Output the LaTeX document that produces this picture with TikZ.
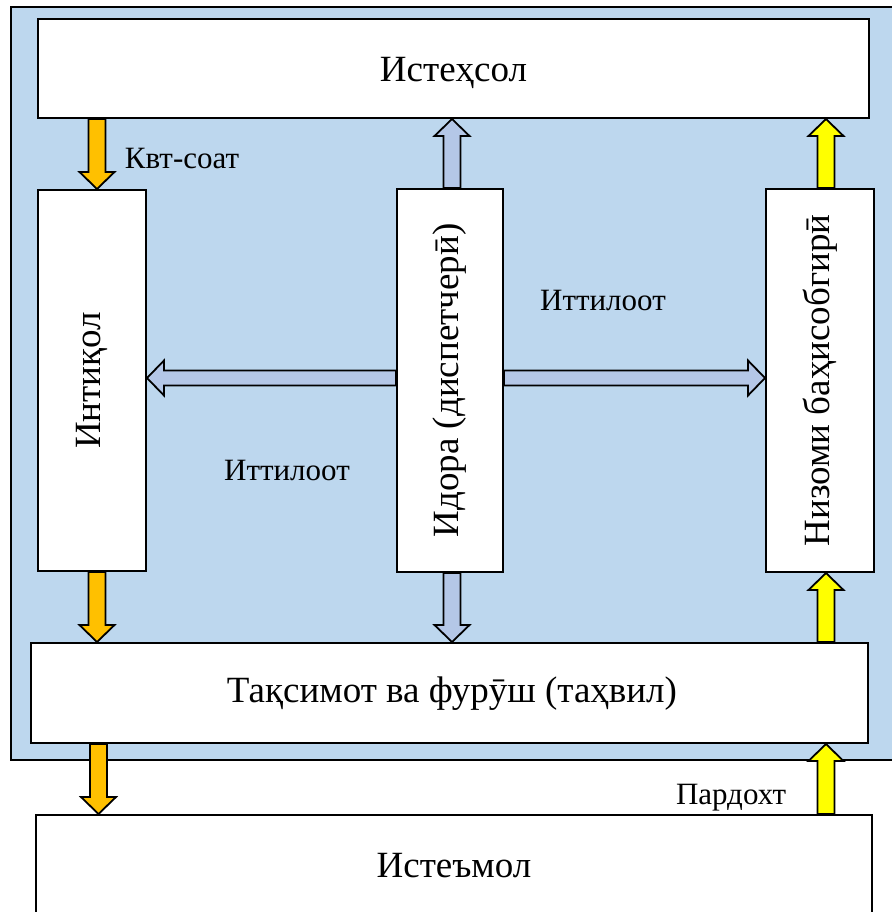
\documentclass[tikz,border=0pt]{standalone}
\usepackage{fontspec}
\setmainfont{Liberation Serif}
\usetikzlibrary{calc}
\definecolor{bgblue}{RGB}{189,215,238}
\definecolor{lav}{RGB}{180,199,231}
\definecolor{orng}{RGB}{255,192,0}
\definecolor{yel}{RGB}{255,255,0}
\newcommand\bigf{\fontsize{37}{44}\selectfont}
\newcommand\smallf{\fontsize{31}{37}\selectfont}
\newcommand\blockarrow[4][8.5]{%
  \coordinate (ba-s) at #3; \coordinate (ba-e) at #4;
  \coordinate (ba-b) at ($(ba-e)!17pt!(ba-s)$);
  \draw[#2] ($(ba-s)!#1pt!90:(ba-e)$) -- ($(ba-b)!#1pt!90:(ba-e)$) -- ($(ba-b)!17.5pt!90:(ba-e)$) -- (ba-e) -- ($(ba-b)!17.5pt!-90:(ba-e)$) -- ($(ba-b)!#1pt!-90:(ba-e)$) -- ($(ba-s)!#1pt!-90:(ba-e)$) -- cycle;
}
\tikzset{
  box/.style={draw, line width=2pt, fill=white, inner sep=0pt},
  txt/.style={font=\bigf, inner sep=0pt},
  arr/.style={draw, line width=1.8pt, line join=miter},
  orangearr/.style={arr, fill=orng},
  yelarr/.style={arr, fill=yel},
  lavarr/.style={arr, fill=lav},
  lbl/.style={font=\smallf, inner sep=0pt, anchor=base},
}
\begin{document}
\begin{tikzpicture}[x=1pt,y=-1pt]
\useasboundingbox (0,0) rectangle (891,912);
\fill[white] (0,0) rectangle (891,912);
% blue background
\draw[fill=bgblue, line width=1.5pt] (11,7) rectangle (905,760);
% boxes
\node[box, minimum width=831pt, minimum height=99pt] (ist) at (453.5,68.5) {};
\node[box, minimum width=108pt, minimum height=381pt] (int) at (92,380.5) {};
\node[box, minimum width=106pt, minimum height=383pt] (ido) at (450,380.5) {};
\node[box, minimum width=108pt, minimum height=383pt] (niz) at (820,380.5) {};
\node[box, minimum width=837pt, minimum height=100pt] (taq) at (449.5,693) {};
\node[box, minimum width=836pt, minimum height=100pt] (ist2) at (454,865) {};
% box texts
\node[txt] (ist-t) at (453.5,73) {Истеҳсол};
\node[txt] (taq-t) at (452,694) {Тақсимот ва фурӯш (таҳвил)};
\node[txt] (ist2-t) at (454,866) {Истеъмол};
\node[txt, rotate=90] (int-t) at (int.center) {Интиқол};
\node[txt, rotate=90] (ido-t) at (ido.center) {Идора (диспетчерӣ)};
\node[txt, rotate=90] (niz-t) at (niz.center) {Низоми баҳисобгирӣ};
% helper coordinates
\coordinate (xa) at (97,0);
\coordinate (xb) at (452,0);
\coordinate (xc) at (826,0);
\coordinate (xd) at (98.5,0);
\coordinate (ya) at (0,378);
% arrows
\blockarrow{orangearr}{(xa |- ist.south)}{(xa |- int.north)}
\blockarrow{lavarr}{(xb |- ido.north)}{(xb |- ist.south)}
\blockarrow{yelarr}{(xc |- niz.north)}{(xc |- ist.south)}
\blockarrow[7.5]{lavarr}{(ido.west |- ya)}{(int.east |- ya)}
\blockarrow[7.5]{lavarr}{(ido.east |- ya)}{(niz.west |- ya)}
\blockarrow{orangearr}{(xa |- int.south)}{(xa |- taq.north)}
\blockarrow{lavarr}{(xb |- ido.south)}{(xb |- taq.north)}
\blockarrow{yelarr}{(xc |- taq.north)}{(xc |- niz.south)}
\blockarrow{orangearr}{(xd |- taq.south)}{(xd |- ist2.north)}
\blockarrow{yelarr}{(xc |- ist2.north)}{(xc |- taq.south)}
% labels
\node[lbl] (l1) at (182,168) {Квт-соат};
\node[lbl] (l2) at (603,310) {Иттилоот};
\node[lbl] (l3) at (287,480) {Иттилоот};
\node[lbl] (l4) at (731,804) {Пардохт};
\end{tikzpicture}
\end{document}
